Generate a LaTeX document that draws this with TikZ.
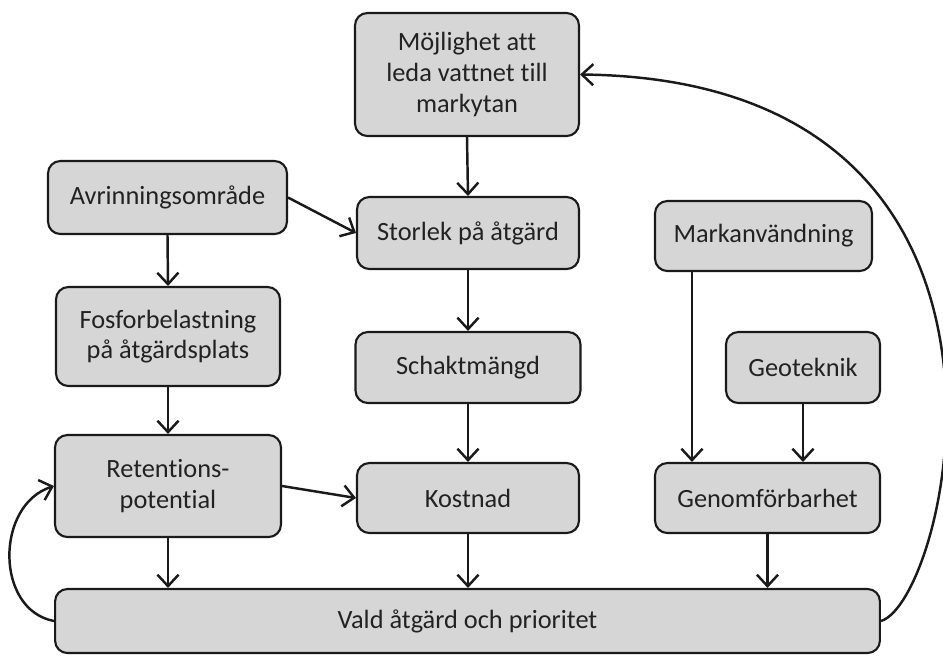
\documentclass[tikz,border=0pt]{standalone}
\usepackage{fontspec}
\setmainfont[Ligatures=NoCommon]{Carlito}
\usepackage{tikz}
\usetikzlibrary{positioning,arrows.meta,calc}
\definecolor{boxgray}{HTML}{D6D6D6}
\definecolor{boxline}{HTML}{1A1A1A}
\definecolor{textdark}{HTML}{222222}

\begin{document}
\begin{tikzpicture}[
  x=0.02cm, y=-0.02cm,
  box/.style={
    draw=boxline, line width=1.2pt, rounded corners=7pt,
    fill=boxgray, text=textdark, font=\fontsize{15}{17.5}\selectfont,
    align=center, inner sep=0pt, minimum width=#1
  },
  arr/.style={-{Straight Barb[length=6.5pt,width=12pt]}, line width=1.4pt, boxline}
]
\useasboundingbox (0,0) rectangle (943,657);

\node[box=4.48cm, minimum height=2.46cm] (moj) at (467,74.5)
  {Möjlighet att\\leda vattnet till\\markytan};
\node[box=4.44cm, minimum height=1.44cm] (stor) at (468,233) {Storlek på åtgärd};
\node[box=4.78cm, minimum height=1.46cm] (avr) at (167.5,197.5) {Avrinningsområde};
\node[box=4.48cm, minimum height=1.98cm] (fos) at (168,336.5)
  {Fosforbelastning\\på åtgärdsplats};
\node[box=4.52cm, minimum height=2.04cm] (ret) at (168,486) {Retentions-\\potential};
\node[box=4.50cm, minimum height=1.42cm] (schakt) at (468,367.5) {Schaktmängd};
\node[box=4.44cm, minimum height=1.40cm] (kost) at (468,498) {Kostnad};
\node[box=4.34cm, minimum height=1.40cm] (mark) at (763.5,236) {Markanvändning};
\node[box=3.08cm, minimum height=1.42cm] (geo) at (803,367.5) {Geoteknik};
\node[box=4.50cm, minimum height=1.40cm] (gen) at (767.5,498) {Genomförbarhet};
\node[box=16.50cm, minimum height=1.28cm] (vald) at (467.5,621) {Vald åtgärd och prioritet};

% straight links
\foreach \a/\b in {moj/stor, stor/schakt, schakt/kost, avr/fos, fos/ret}{
  \draw[arr] (\a.south) -- (\b.north);
}
\foreach \a in {ret, kost, gen}{
  \draw[arr] (\a.south) -- (\a.south |- vald.north);
}
\draw[arr] (geo.south) -- (geo.south |- gen.north);
\draw[arr] (avr.east) -- (stor.west);
\draw[arr] (ret.east) -- (kost.west);
\draw[arr] ([shift={(38,0)}]mark.south west) -- ([shift={(38,0)}]mark.south west |- gen.north);

% feedback loops
\draw[arr] (vald.west) .. controls (-5,610) and (-5,505) .. (ret.west);
\draw[arr] (vald.east) .. controls (950,600) and (1070,80) .. (moj.east);
\end{tikzpicture}
\end{document}
